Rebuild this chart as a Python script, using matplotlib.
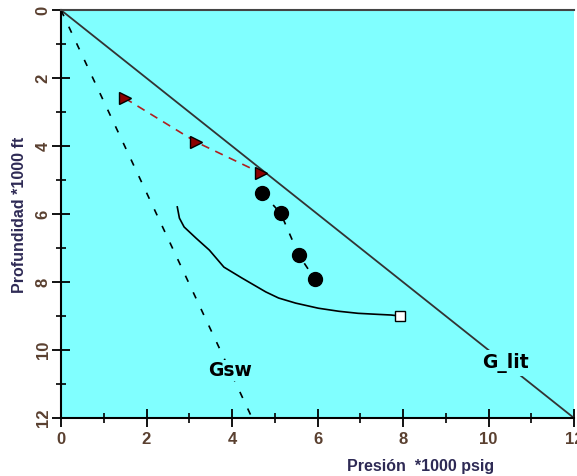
import numpy as np
import matplotlib.pyplot as plt
from matplotlib.ticker import MultipleLocator

# gradient lines (pressure *1000 psig, depth *1000 ft)
glit_p = [0, 12]
glit_d = [0, 12]
gsw_p = [0, 4.47]
gsw_d = [0, 12]

# red triangles
tri_p = [1.49, 3.16, 4.67]
tri_d = [2.59, 3.88, 4.79]

# black dots
dot_p = [4.70, 5.14, 5.56, 5.93]
dot_d = [5.37, 5.98, 7.20, 7.90]

# solid curve ending in open marker
curve_p = [2.72, 2.77, 2.88, 3.16, 3.47, 3.81, 4.23, 4.79, 5.09, 5.49, 6.02, 6.50, 6.95, 7.40, 7.72, 7.93]
curve_d = [5.79, 6.12, 6.38, 6.71, 7.06, 7.56, 7.88, 8.29, 8.47, 8.62, 8.77, 8.86, 8.92, 8.95, 8.97, 9.00]

bg = "#80ffff"
tick_col = "#5a4030"
lab_col = "#2e2a55"

fig = plt.figure(figsize=(5.77, 4.76), dpi=100)
# the plot area runs almost to the right edge, so the last "12" is clipped like the original
ax = fig.add_axes([61 / 577, 0.1218, 513 / 577, 0.857])
ax.set_facecolor(bg)

ax.plot(glit_p, glit_d, color="#333333", lw=1.3, zorder=2)
ax.plot(gsw_p, gsw_d, color="black", lw=1.2, dashes=(4, 7), zorder=2)
ax.plot(tri_p, tri_d, color="#b02020", lw=1.2, dashes=(5, 4), marker=">",
        markersize=8, markerfacecolor="#8b0000", markeredgecolor="black", zorder=3)
ax.plot(dot_p, dot_d, color="black", lw=1.2, dashes=(4, 6), marker="o",
        markersize=10, markerfacecolor="black", zorder=3)
ax.plot(curve_p, curve_d, color="black", lw=1.2, zorder=3)
ax.plot(curve_p[-1], curve_d[-1], marker="s", markersize=7,
        markerfacecolor="white", markeredgecolor="black", zorder=4)

ax.text(3.95, 10.6, "Gsw", fontsize=13.5, fontweight="bold", ha="center", va="center",
        bbox=dict(facecolor=bg, edgecolor="none", pad=1), zorder=5)
ax.text(10.4, 10.38, "G_lit", fontsize=13.5, fontweight="bold", ha="center", va="center",
        bbox=dict(facecolor=bg, edgecolor="none", pad=2), zorder=5)

ax.set_xlim(0, 12)
ax.set_ylim(12, 0)
ax.xaxis.set_major_locator(MultipleLocator(2))
ax.xaxis.set_minor_locator(MultipleLocator(1))
ax.yaxis.set_major_locator(MultipleLocator(2))
ax.yaxis.set_minor_locator(MultipleLocator(1))
ax.tick_params(which="major", direction="inout", length=13, width=1.3,
               labelsize=12, labelcolor=tick_col)
ax.tick_params(which="minor", direction="inout", length=7, width=1.2)
ax.tick_params(axis="y", labelrotation=90, pad=1)
for lbl in ax.get_xticklabels() + ax.get_yticklabels():
    lbl.set_fontfamily("Liberation Sans")
    lbl.set_fontweight("bold")
for lbl in ax.get_yticklabels():
    lbl.set_va("center")

for s in ["left", "bottom"]:
    ax.spines[s].set_linewidth(1.5)
ax.spines["top"].set_color("#444444")
ax.spines["top"].set_linewidth(1.5)
ax.spines["right"].set_visible(False)

fig.text(421 / 577, 1 - 466 / 476, "Presión  *1000 psig", fontsize=11.5, fontweight="bold",
         family="Liberation Sans", color=lab_col, ha="center", va="center")
fig.text(20 / 577, 1 - 215 / 476, "Profundidad *1000 ft", fontsize=11.5, fontweight="bold",
         family="Liberation Sans", color=lab_col, ha="center", va="center", rotation=90)

fig.savefig("out.png", dpi=100)
